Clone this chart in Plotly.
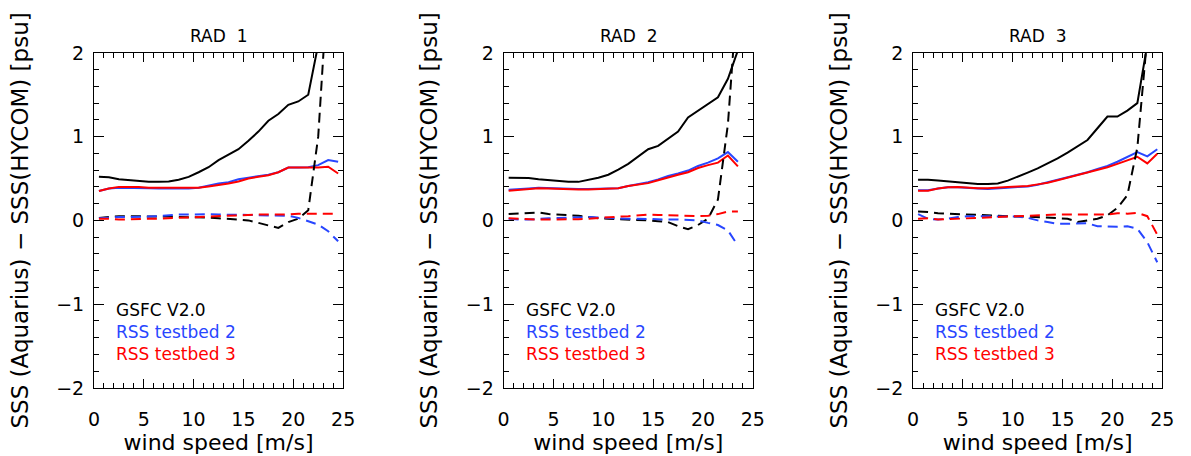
import plotly.graph_objects as go

# ---------------- data ----------------
wind_rad1 = [0.5, 1.5, 2.5, 3.5, 4.5, 5.5, 6.5, 7.5, 8.5, 9.5, 10.5, 11.5, 12.5,
             13.5, 14.5, 15.5, 16.5, 17.5, 18.5, 19.5, 20.5, 21.5, 22.5, 23.5, 24.5]
wind_rad2 = [0.5, 1.5, 2.5, 3.5, 4.5, 5.5, 6.5, 7.5, 8.5, 9.5, 10.5, 11.5, 12.5,
             13.5, 14.5, 15.5, 16.5, 17.5, 18.5, 19.5, 20.5, 21.5, 22.5, 23.5]
wind_rad3 = [0.5, 1.5, 2.5, 3.5, 4.5, 5.5, 6.5, 7.5, 8.5, 9.5, 10.5, 11.5, 12.5,
             13.5, 14.5, 15.5, 16.5, 17.5, 18.5, 19.5, 20.5, 21.5, 22.5, 23.5, 24.5]

# solid lines (std dev), dashed lines (bias)
gsfc_std_1 = [0.52, 0.515, 0.49, 0.48, 0.47, 0.46, 0.46, 0.465, 0.485, 0.52, 0.575, 0.635, 0.72,
              0.79, 0.85, 0.95, 1.06, 1.19, 1.27, 1.38, 1.42, 1.50, 2.1, 3.0, 4.0]
tb2_std_1 = [0.35, 0.38, 0.39, 0.39, 0.39, 0.385, 0.38, 0.38, 0.38, 0.38, 0.39, 0.415, 0.44,
             0.455, 0.49, 0.51, 0.525, 0.545, 0.575, 0.63, 0.63, 0.635, 0.66, 0.72, 0.70]
tb3_std_1 = [0.35, 0.38, 0.40, 0.40, 0.40, 0.39, 0.39, 0.39, 0.39, 0.39, 0.39, 0.405, 0.42,
             0.44, 0.465, 0.50, 0.52, 0.54, 0.575, 0.63, 0.63, 0.63, 0.63, 0.64, 0.56]
gsfc_bias_1 = [0.03, 0.04, 0.05, 0.05, 0.05, 0.045, 0.045, 0.045, 0.04, 0.04, 0.04, 0.035, 0.025,
               0.02, 0.01, 0.0, -0.03, -0.055, -0.09, -0.02, 0.02, 0.12, 1.0, 2.9, 5.0]
tb2_bias_1 = [0.025, 0.035, 0.04, 0.04, 0.04, 0.045, 0.05, 0.06, 0.07, 0.07, 0.075, 0.075, 0.07,
              0.07, 0.065, 0.065, 0.06, 0.06, 0.055, 0.055, 0.03, -0.01, -0.05, -0.13, -0.25]
tb3_bias_1 = [0.02, 0.02, 0.01, 0.015, 0.02, 0.02, 0.02, 0.025, 0.03, 0.04, 0.045, 0.05, 0.05,
              0.055, 0.06, 0.07, 0.07, 0.07, 0.07, 0.07, 0.08, 0.08, 0.08, 0.08, 0.08]

gsfc_std_2 = [0.51, 0.51, 0.505, 0.49, 0.48, 0.465, 0.46, 0.46, 0.485, 0.51, 0.545, 0.605, 0.675,
              0.76, 0.85, 0.89, 0.97, 1.06, 1.23, 1.31, 1.39, 1.47, 1.69, 2.03]
tb2_std_2 = [0.365, 0.37, 0.38, 0.39, 0.385, 0.38, 0.38, 0.375, 0.375, 0.38, 0.38, 0.385, 0.41,
             0.43, 0.455, 0.49, 0.53, 0.56, 0.595, 0.65, 0.69, 0.74, 0.815, 0.70]
tb3_std_2 = [0.355, 0.365, 0.375, 0.385, 0.38, 0.375, 0.375, 0.37, 0.37, 0.375, 0.38, 0.385, 0.41,
             0.425, 0.445, 0.48, 0.515, 0.545, 0.575, 0.625, 0.66, 0.69, 0.775, 0.645]
gsfc_bias_2 = [0.075, 0.08, 0.085, 0.095, 0.075, 0.07, 0.065, 0.055, 0.04, 0.025, 0.02, 0.015, 0.01,
               0.01, 0.0, -0.01, -0.02, -0.07, -0.105, -0.055, 0.02, 0.25, 1.15, 2.8]
tb2_bias_2 = [0.02, 0.01, 0.01, 0.02, 0.025, 0.03, 0.035, 0.04, 0.04, 0.035, 0.03, 0.02, 0.02,
              0.02, 0.015, 0.01, 0.01, 0.01, 0.005, 0.0, -0.03, -0.055, -0.12, -0.3]
tb3_bias_2 = [0.025, 0.02, 0.01, 0.01, 0.01, 0.01, 0.01, 0.015, 0.02, 0.03, 0.04, 0.045, 0.05,
              0.06, 0.07, 0.065, 0.06, 0.055, 0.05, 0.05, 0.055, 0.075, 0.105, 0.105]

gsfc_std_3 = [0.485, 0.485, 0.475, 0.465, 0.45, 0.44, 0.435, 0.435, 0.44, 0.475, 0.52, 0.57, 0.62,
              0.68, 0.74, 0.81, 0.89, 0.96, 1.10, 1.24, 1.24, 1.31, 1.40, 2.1, 3.0]
tb2_std_3 = [0.36, 0.36, 0.38, 0.395, 0.395, 0.385, 0.38, 0.375, 0.38, 0.39, 0.40, 0.405, 0.425,
             0.455, 0.485, 0.52, 0.545, 0.575, 0.615, 0.65, 0.70, 0.76, 0.815, 0.765, 0.85]
tb3_std_3 = [0.355, 0.355, 0.38, 0.395, 0.40, 0.39, 0.385, 0.385, 0.395, 0.40, 0.405, 0.41, 0.43,
             0.45, 0.48, 0.51, 0.54, 0.57, 0.60, 0.635, 0.675, 0.72, 0.76, 0.68, 0.795]
gsfc_bias_3 = [0.105, 0.10, 0.085, 0.08, 0.075, 0.07, 0.065, 0.055, 0.05, 0.045, 0.045, 0.045, 0.04,
               0.035, 0.03, 0.02, -0.02, 0.0, 0.02, 0.06, 0.15, 0.30, 0.87, 2.2, 4.0]
tb2_bias_3 = [0.075, 0.02, 0.01, 0.02, 0.04, 0.05, 0.05, 0.05, 0.05, 0.05, 0.045, 0.03, 0.0,
              -0.02, -0.04, -0.04, -0.04, -0.035, -0.07, -0.075, -0.075, -0.07, -0.1, -0.26, -0.5]
tb3_bias_3 = [0.02, 0.025, 0.01, 0.015, 0.025, 0.03, 0.03, 0.035, 0.04, 0.045, 0.05, 0.055, 0.06,
              0.065, 0.07, 0.07, 0.07, 0.07, 0.07, 0.07, 0.085, 0.08, 0.09, 0.05, -0.17]

panel_titles = ["RAD  1", "RAD  2", "RAD  3"]
legend_labels = ["GSFC V2.0", "RSS testbed 2", "RSS testbed 3"]
x_title = "wind speed [m/s]"
y_title = "SSS (Aquarius) \u2212 SSS(HYCOM) [psu]"

# ---------------- styling ----------------
FONT = "DejaVu Sans"
BLACK, BLUE, RED = "#000000", "#2846ff", "#ff0000"
colors = [BLACK, BLUE, RED]
DASH = "10px,6px"
W, H = 1191, 456

panels = [
    (wind_rad1, [gsfc_std_1, tb2_std_1, tb3_std_1], [gsfc_bias_1, tb2_bias_1, tb3_bias_1]),
    (wind_rad2, [gsfc_std_2, tb2_std_2, tb3_std_2], [gsfc_bias_2, tb2_bias_2, tb3_bias_2]),
    (wind_rad3, [gsfc_std_3, tb2_std_3, tb3_std_3], [gsfc_bias_3, tb2_bias_3, tb3_bias_3]),
]

# pixel positions of each plot area
x_px = [(89.3, 342.3), (505.3, 758.3), (921.0, 1174.0)]
y_px = (44.0, 396.0)

fig = go.Figure()
layout = dict(
    width=W, height=H,
    margin=dict(l=0, r=0, t=0, b=0),
    paper_bgcolor="white", plot_bgcolor="white",
    showlegend=False,
    font=dict(family=FONT, color="black"),
)
annotations = []

legend_html = "<br>".join(
    '<span style="color:%s">%s</span>' % (c, lab) for lab, c in zip(legend_labels, colors))

for i, (wind, stds, biases) in enumerate(panels):
    sfx = "" if i == 0 else str(i + 1)
    xa, ya = "x" + sfx, "y" + sfx
    for s, c in zip(stds, colors):
        fig.add_trace(go.Scatter(x=wind, y=s, mode="lines", xaxis=xa, yaxis=ya,
                                 line=dict(color=c, width=2), hoverinfo="skip"))
    for b, c in zip(biases, colors):
        fig.add_trace(go.Scatter(x=wind, y=b, mode="lines", xaxis=xa, yaxis=ya,
                                 line=dict(color=c, width=2, dash=DASH), hoverinfo="skip"))

    x0, x1 = x_px[i]
    common = dict(showline=True, linecolor="black", linewidth=1, mirror="allticks",
                  ticks="inside", tickcolor="black", tickwidth=1, showgrid=False,
                  zeroline=False)
    layout["xaxis" + sfx] = dict(
        domain=[x0 / W, x1 / W], anchor=ya, range=[0, 25],
        tickmode="array", tickvals=[0, 5, 10, 15, 20, 25],
        ticktext=["0", "5", "10", "15", "20", "25"],
        ticklen=9, ticklabelstandoff=14,
        minor=dict(dtick=1, tick0=0, ticks="inside", ticklen=5, tickcolor="black", showgrid=False),
        tickfont=dict(family=FONT, size=19, color="black"),
        title=dict(text=x_title, font=dict(family=FONT, size=22, color="black"), standoff=2),
        **common)
    layout["yaxis" + sfx] = dict(
        domain=[(H - y_px[1]) / H, (H - y_px[0]) / H], anchor=xa, range=[-2, 2],
        tickmode="array", tickvals=[-2, -1, 0, 1, 2],
        ticktext=["\u22122", "\u22121", "0", "1", "2"],
        ticklen=10, ticklabelstandoff=5,
        minor=dict(dtick=0.2, tick0=0, ticks="inside", ticklen=5, tickcolor="black", showgrid=False),
        tickfont=dict(family=FONT, size=19, color="black"),
        title=dict(text=y_title, font=dict(family=FONT, size=23, color="black"), standoff=21),
        **common)

    annotations.append(dict(text=panel_titles[i], xref=xa + " domain", yref=ya + " domain",
                            x=0.5, y=1, xanchor="center", yanchor="bottom", yshift=5,
                            showarrow=False, font=dict(family=FONT, size=17, color="black")))
    annotations.append(dict(text=legend_html, xref=xa + " domain", yref=ya + " domain",
                            x=0.08, y=0.168, xanchor="left", yanchor="middle", align="left",
                            showarrow=False, font=dict(family=FONT, size=17, color="black")))

layout["annotations"] = annotations
fig.update_layout(**layout)
fig.write_html("out.html")
